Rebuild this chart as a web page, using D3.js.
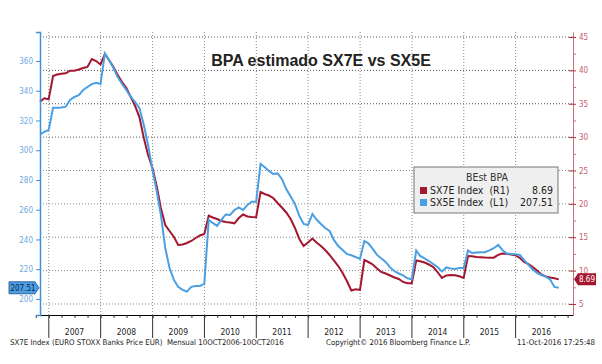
<!DOCTYPE html>
<html>
<head>
  <meta charset="utf-8">
  <script src="https://d3js.org/d3.v7.min.js"></script>
  <style>
    body { margin: 0; background: #fff; }
    svg { display: block; }
    text { font-family: "DejaVu Sans Condensed", "DejaVu Sans", sans-serif; }
    .title { font-family: "Liberation Sans", Arial, sans-serif; font-weight: bold; }
  </style>
</head>
<body>
<script>
  // BEst EPS, monthly, end of month Oct 2006 .. Oct 2016
  var sx5e = [310.7, 312.3, 313.6, 328.6, 328.6, 328.7, 329.3, 333.8, 335.8, 337.1,
    340.5, 342.5, 344.5, 345.4, 344.5, 365.2, 360.7, 355.3, 349.2, 344.5,
    340.5, 335.8, 332.4, 328.4, 316.9, 303.5, 286.7, 271.9, 256.5, 234.3,
    220.8, 212.8, 208.1, 206.1, 204.9, 208.1, 208.7, 208.7, 210.1, 253.1,
    251.1, 249.1, 253.1, 256.8, 256.5, 259.8, 261.6, 259.8, 263.2, 265.4,
    265.4, 290.8, 288.7, 286.1, 284.0, 284.4, 280.7, 273.9, 268.9, 263.9,
    255.8, 250.4, 249.7, 257.1, 253.4, 250.4, 247.7, 245.7, 239.7, 235.6,
    232.9, 230.3, 229.4, 228.2, 226.9, 239.0, 237.4, 233.6, 229.6, 227.2,
    224.9, 221.2, 218.6, 217.1, 215.8, 213.9, 213.2, 232.6, 228.9, 227.2,
    225.5, 223.5, 221.5, 218.5, 221.2, 220.5, 220.2, 220.8, 220.8, 232.6,
    230.9, 231.3, 231.4, 231.4, 232.6, 234.1, 236.3, 232.9, 230.6, 230.3,
    230.1, 229.6, 226.2, 222.9, 219.8, 217.5, 216.1, 215.0, 213.1, 208.1,
    207.51];
  var sx7e = [35.31, 35.82, 35.67, 39.16, 39.38, 39.49, 39.56, 39.95, 39.95, 40.13,
    40.36, 40.51, 41.70, 41.40, 40.88, 42.45, 41.55, 40.51, 39.31, 38.26,
    37.36, 36.01, 34.66, 33.00, 29.87, 27.32, 25.37, 22.53, 19.38, 16.84,
    15.94, 15.04, 13.84, 13.91, 14.14, 14.44, 14.89, 15.26, 15.49, 18.23,
    17.96, 17.73, 17.43, 17.28, 17.21, 17.09, 17.88, 18.41, 18.11, 18.03,
    17.99, 21.78, 21.48, 21.25, 20.88, 20.13, 19.46, 18.71, 17.73, 16.39,
    14.74, 13.69, 14.21, 14.81, 14.21, 13.69, 13.09, 12.34, 11.52, 10.69,
    9.64, 8.45, 7.02, 7.20, 7.10, 11.59, 11.29, 10.92, 10.32, 9.79,
    9.57, 9.27, 8.97, 8.75, 8.30, 8.10, 8.10, 11.52, 11.40, 11.22,
    10.92, 10.54, 9.79, 8.90, 9.27, 9.34, 9.30, 9.15, 8.90, 12.19,
    12.15, 12.04, 12.00, 11.95, 11.94, 11.94, 12.37, 12.57, 12.52, 12.43,
    12.30, 11.89, 11.32, 10.99, 10.54, 10.02, 9.42, 9.12, 8.96, 8.85,
    8.69];
  var leftTicks = [200, 220, 240, 260, 280, 300, 320, 340, 360];
  var rightTicks = [5, 10, 15, 20, 25, 30, 35, 40, 45];
  var rightMinor = [7.5, 12.5, 17.5, 22.5, 27.5, 32.5, 37.5, 42.5];
  var years = [2007, 2008, 2009, 2010, 2011, 2012, 2013, 2014, 2015, 2016];

  var blue = "#4a9fe3", red = "#a3172f";

  var months = sx5e.map(function (d, i) { return new Date(2006, 10 + i, 0); });

  var svg = d3.select("body").append("svg")
      .attr("width", 602).attr("height", 364);

  var x = d3.scaleTime()
      .domain([new Date(2006, 9, 31), new Date(2017, 1, 8)])
      .range([40, 573]);
  var yL = d3.scaleLinear().domain([189.2, 379.5]).range([315, 32]);
  var yR = d3.scaleLinear().domain([3.35, 45.75]).range([315, 32]);

  // grid
  svg.append("g").selectAll("line").data(rightTicks).join("line")
      .attr("x1", 40).attr("x2", 573)
      .attr("y1", function (d) { return yR(d); })
      .attr("y2", function (d) { return yR(d); })
      .attr("stroke", function (d) { return d >= 30 ? "#555" : "#8a8a8a"; })
      .attr("stroke-width", 1)
      .attr("stroke-dasharray", "1,2");
  svg.append("g").selectAll("line").data(years).join("line")
      .attr("x1", function (d) { return x(new Date(d, 0, 1)); })
      .attr("x2", function (d) { return x(new Date(d, 0, 1)); })
      .attr("y1", 32).attr("y2", 315)
      .attr("stroke", "#8a8a8a").attr("stroke-width", 1)
      .attr("stroke-dasharray", "1,2");

  // title
  svg.append("text").attr("class", "title")
      .attr("x", 321).attr("y", 66)
      .attr("text-anchor", "middle")
      .style("font-size", "16px").style("fill", "#222")
      .text("BPA estimado SX7E vs SX5E");

  // lines
  var lineL = d3.line().x(function (d, i) { return x(months[i]); }).y(function (d) { return yL(d); });
  var lineR = d3.line().x(function (d, i) { return x(months[i]); }).y(function (d) { return yR(d); });

  svg.append("path").datum(sx7e).attr("d", lineR)
      .attr("fill", "none").attr("stroke", red).attr("stroke-width", 2);
  svg.append("path").datum(sx5e).attr("d", lineL)
      .attr("fill", "none").attr("stroke", blue).attr("stroke-width", 2);

  // bottom axis
  var quarters = d3.timeMonth.every(3).range(new Date(2006, 9, 1), new Date(2017, 0, 2));
  var xAxis = svg.append("g").attr("transform", "translate(0,315)")
      .call(d3.axisBottom(x).tickValues(quarters).tickSize(3).tickSizeOuter(0).tickFormat(""));
  xAxis.select(".domain").attr("stroke", "#000");
  xAxis.selectAll(".tick line").attr("stroke", "#333");
  svg.append("g").selectAll("line").data(years).join("line")
      .attr("x1", function (d) { return x(new Date(d, 0, 1)); })
      .attr("x2", function (d) { return x(new Date(d, 0, 1)); })
      .attr("y1", 315).attr("y2", 338)
      .attr("stroke", "#333");
  svg.append("g").selectAll("text").data(years).join("text")
      .attr("x", function (d) { return x(new Date(d, 6, 1)); })
      .attr("y", 335)
      .attr("text-anchor", "middle")
      .style("font-size", "8.5px").style("fill", "#222")
      .text(function (d) { return d; });

  // left axis
  var leftAxis = svg.append("g").attr("transform", "translate(40,0)")
      .call(d3.axisLeft(yL).tickValues(leftTicks).tickSize(4).tickSizeOuter(4));
  leftAxis.select(".domain").attr("stroke", "#3d8fd6").attr("stroke-width", 1.5);
  leftAxis.selectAll(".tick line").attr("stroke", "#3d8fd6");
  leftAxis.selectAll(".tick text").style("fill", "#6ea9e0").style("font-size", "8px")
      .style("font-family", "'DejaVu Sans Condensed', sans-serif");

  // right axis
  var rightAxis = svg.append("g").attr("transform", "translate(573,0)")
      .call(d3.axisRight(yR).tickValues(rightTicks).tickSize(3).tickSizeOuter(0));
  rightAxis.select(".domain").attr("stroke", "#c9707e");
  rightAxis.selectAll(".tick line").attr("stroke", "#b03040").attr("x1", -4);
  rightAxis.selectAll(".tick text").style("fill", "#c85c6c").style("font-size", "8px")
      .style("font-family", "'DejaVu Sans Condensed', sans-serif");
  var rightMinorAxis = svg.append("g").attr("transform", "translate(573,0)")
      .call(d3.axisRight(yR).tickValues(rightMinor).tickSize(3).tickFormat(""));
  rightMinorAxis.select(".domain").remove();
  rightMinorAxis.selectAll(".tick line").attr("stroke", "#c9707e");

  // last value tags
  var yb = yL(sx5e[sx5e.length - 1]);
  svg.append("path")
      .attr("d", "M9," + (yb - 6) + "H35L39," + yb + "L35," + (yb + 6) + "H9Z")
      .attr("fill", "#4d9ee3").attr("stroke", "#1b4f8a").attr("stroke-width", 0.8);
  svg.append("text").attr("x", 23).attr("y", yb + 3)
      .attr("text-anchor", "middle")
      .style("font-size", "8px").style("fill", "#0b2447")
      .text(d3.format(".2f")(sx5e[sx5e.length - 1]));

  var yr = yR(sx7e[sx7e.length - 1]);
  svg.append("path")
      .attr("d", "M574," + yr + "L578," + (yr - 6) + "H596V" + (yr + 6) + "H578Z")
      .attr("fill", "#a3172f");
  svg.append("text").attr("x", 587).attr("y", yr + 3)
      .attr("text-anchor", "middle")
      .style("font-size", "8px").style("fill", "#fff")
      .text(d3.format(".2f")(sx7e[sx7e.length - 1]));

  // legend
  var lg = svg.append("g");
  lg.append("rect").attr("x", 414).attr("y", 167).attr("width", 144).attr("height", 46)
      .attr("fill", "#efefef").attr("stroke", "#777").attr("stroke-width", 1);
  lg.append("text").attr("x", 487).attr("y", 181)
      .attr("text-anchor", "middle")
      .style("font-size", "10.5px").style("fill", "#333")
      .text("BEst BPA");
  var legendRows = [
    { color: red, name: "SX7E Index  (R1)", value: "8.69" },
    { color: blue, name: "SX5E Index  (L1)", value: "207.51" }
  ];
  legendRows.forEach(function (r, i) {
    var yy = 194 + i * 12;
    lg.append("rect").attr("x", 420).attr("y", yy - 7).attr("width", 7).attr("height", 7)
        .attr("fill", r.color);
    lg.append("text").attr("x", 430).attr("y", yy)
        .style("font-size", "10.5px").style("fill", "#222").style("white-space", "pre")
        .attr("xml:space", "preserve")
        .text(r.name);
    lg.append("text").attr("x", 553).attr("y", yy)
        .attr("text-anchor", "end")
        .style("font-size", "10.5px").style("fill", "#222")
        .text(r.value);
  });

  // footer
  svg.append("text").attr("x", 10).attr("y", 345)
      .style("font-size", "7.8px").style("fill", "#222").style("white-space", "pre")
      .attr("xml:space", "preserve")
      .text("SX7E Index (EURO STOXX Banks Price EUR)  Mensual 10OCT2006-10OCT2016");
  svg.append("text").attr("x", 326).attr("y", 345)
      .style("font-size", "7.8px").style("fill", "#222")
      .text("Copyright\u00a9 2016 Bloomberg Finance L.P.");
  svg.append("text").attr("x", 595).attr("y", 345)
      .attr("text-anchor", "end")
      .style("font-size", "7.8px").style("fill", "#222")
      .text("11-Oct-2016  17:25:48");
</script>
</body>
</html>
